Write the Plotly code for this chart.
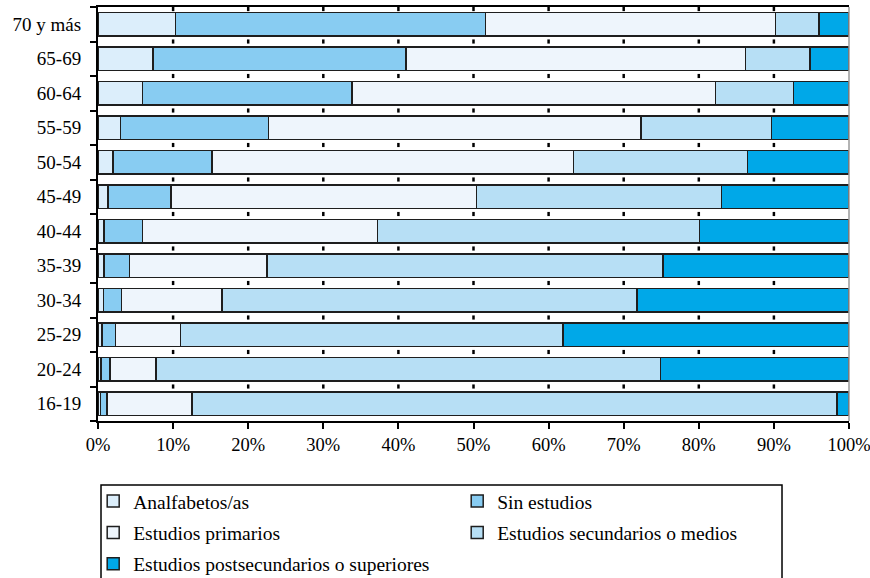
import plotly.graph_objects as go

# Age groups, listed bottom-to-top as they appear on the axis
age_groups = ["16-19", "20-24", "25-29", "30-34", "35-39", "40-44",
              "45-49", "50-54", "55-59", "60-64", "65-69", "70 y más"]

# Share of each education level per age group (%)
analfabetos = [0.3, 0.4, 0.5, 0.7, 0.8, 0.8, 1.3, 2.0, 3.0, 5.9, 7.3, 10.3]
sin_estudios = [0.9, 1.2, 1.8, 2.4, 3.4, 5.1, 8.4, 13.2, 19.7, 27.9, 33.7, 41.3]
primarios = [11.3, 6.1, 8.7, 13.4, 18.3, 31.3, 40.7, 48.1, 49.6, 48.4, 45.2, 38.6]
secundarios = [85.9, 67.2, 50.9, 55.3, 52.7, 42.9, 32.6, 23.2, 17.4, 10.4, 8.6, 5.8]
superiores = [1.6, 25.1, 38.1, 28.2, 24.8, 19.9, 17.0, 13.5, 10.3, 7.4, 5.2, 4.0]

x_ticks = [0, 10, 20, 30, 40, 50, 60, 70, 80, 90, 100]
x_tick_text = [f"{v}%" for v in x_ticks]

FONT = "Liberation Serif"
OUTLINE = "#1e1e1e"

series = [
    ("Analfabetos/as", analfabetos, "#DCEEFB", "legend"),
    ("Sin estudios", sin_estudios, "#88CCF2", "legend2"),
    ("Estudios primarios", primarios, "#EEF5FC", "legend"),
    ("Estudios secundarios o medios", secundarios, "#B7DFF5", "legend2"),
    ("Estudios postsecundarios o superiores", superiores, "#00A8E8", "legend"),
]

fig = go.Figure()
for name, values, color, leg in series:
    fig.add_trace(go.Bar(
        y=age_groups, x=values, name=name, orientation="h",
        marker=dict(color=color, line=dict(color=OUTLINE, width=1.5)),
        legend=leg, legendgroup=name,
        hovertemplate="%{y}: %{x:.1f}%<extra>" + name + "</extra>",
    ))

BARGAP = 0.32

# Short vertical dashes at the inner gridlines, visible in the gaps between bars
shapes = []
n = len(age_groups)
for xv in x_ticks[1:-1]:
    for i in range(n - 1):
        c = i + 0.5
        shapes.append(dict(type="line", xref="x", yref="y",
                           x0=xv, x1=xv, y0=c - 0.06, y1=c + 0.06,
                           line=dict(color="black", width=2.5), layer="below"))
    shapes.append(dict(type="line", xref="x", yref="y",
                       x0=xv, x1=xv, y0=n - 0.5, y1=n - 0.5 - 0.12,
                       line=dict(color="black", width=2.5), layer="below"))

# Right border of the plotting area
shapes.append(dict(type="line", xref="paper", yref="paper", x0=1, x1=1, y0=0, y1=1,
                   line=dict(color="#9a9a9a", width=1.5)))
# Frame around the legend
shapes.append(dict(type="rect", xref="paper", yref="paper",
                   x0=0.004, x1=0.9108, y0=-0.1546, y1=-0.45,
                   line=dict(color="black", width=1.5), fillcolor="rgba(0,0,0,0)"))

legend_style = dict(
    orientation="v", xanchor="left", yanchor="top", y=-0.147,
    font=dict(family=FONT, size=19.5, color="black"),
    bgcolor="rgba(0,0,0,0)", borderwidth=0,
    traceorder="grouped", tracegroupgap=3,
)

fig.update_layout(
    width=870, height=578,
    margin=dict(l=98, r=21, t=7, b=157, autoexpand=False),
    paper_bgcolor="white", plot_bgcolor="white",
    barmode="stack", bargap=BARGAP,
    font=dict(family=FONT, size=19, color="black"),
    showlegend=True,
    legend=dict(legend_style, x=-0.0064),
    legend2=dict(legend_style, x=0.4783),
    shapes=shapes,
    xaxis=dict(
        range=[0, 100], tickvals=x_ticks, ticktext=x_tick_text,
        showgrid=False, zeroline=False,
        showline=True, linecolor="black", linewidth=2, mirror=True,
        ticks="outside", ticklen=6, tickwidth=1.5, tickcolor="black",
        ticklabeloverflow="allow",
        tickfont=dict(family=FONT, size=18.5, color="black"),
    ),
    yaxis=dict(
        categoryorder="array", categoryarray=age_groups,
        range=[-0.5, n - 0.5],
        showgrid=False, zeroline=False,
        showline=True, linecolor="black", linewidth=2,
        ticks="outside", ticklen=6, tickwidth=1.5, tickcolor="black",
        tickson="boundaries", ticklabelstandoff=11,
        tickfont=dict(family=FONT, size=19, color="black"),
    ),
)

fig.write_html("out.html")
